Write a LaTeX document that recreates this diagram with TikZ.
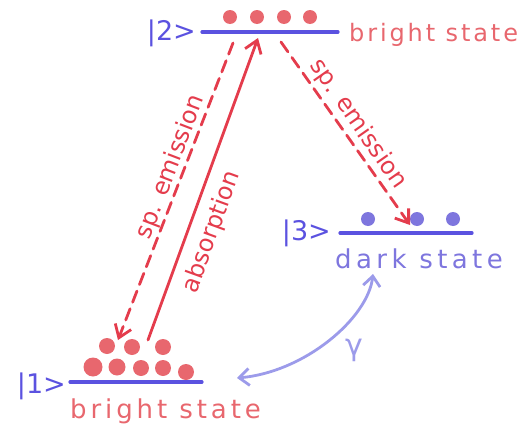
\documentclass[tikz,border=0pt]{standalone}
\usepackage{fontspec}
\setmainfont{DejaVu Sans}
\usetikzlibrary{arrows.meta}
\definecolor{lvlblue}{HTML}{5B52E0}
\definecolor{popred}{HTML}{E8676E}
\definecolor{arrred}{HTML}{E43C4C}
\definecolor{darkpur}{HTML}{7E76DE}
\definecolor{gampur}{HTML}{9C9BEA}

\begin{document}
\begin{tikzpicture}[
  x=1pt, y=-1pt,
  level/.style ={draw=lvlblue,line width=3.2pt,line cap=round},
  ket/.style   ={text=lvlblue,font=\fontsize{27}{27}\selectfont,inner sep=0pt},
  lbl/.style   ={text=popred,font=\fontsize{24}{24}\selectfont\addfontfeatures{LetterSpace=12},inner sep=0pt},
  dlbl/.style  ={text=darkpur,font=\fontsize{26}{26}\selectfont\addfontfeatures{LetterSpace=17},inner sep=0pt},
  tag/.style   ={text=arrred,font=\fontsize{24}{24}\selectfont,inner sep=0pt},
  pop/.style   ={fill=popred},
  dpop/.style  ={fill=darkpur},
  trans/.style ={draw=arrred,line width=2.8pt,line cap=round,line join=round,
                 -{Straight Barb[length=12pt,width=17pt]}},
  emis/.style  ={trans,dash pattern=on 12pt off 7pt},
  decay/.style ={draw=gampur,line width=2.8pt,line cap=round,line join=round,
                 {Straight Barb[length=10pt,width=17pt]}-{Straight Barb[length=10pt,width=17pt]}}]

\useasboundingbox (0,0) rectangle (528,434);

% ---------- levels ----------
\coordinate (l2w) at (202,32);  \coordinate (l2e) at (338,32);
\coordinate (l3w) at (340,233); \coordinate (l3e) at (472,233);
\coordinate (l1w) at (70,382);  \coordinate (l1e) at (202,382);
\draw[level] (l2w) -- (l2e);
\draw[level] (l3w) -- (l3e);
\draw[level] (l1w) -- (l1e);

\node[ket,anchor=east] (k2) at (196,33)  {|2>};
\node[ket,anchor=east] (k3) at (331,233) {|3>};
\node[ket,anchor=east] (k1) at (66,386)  {|1>};

\node[lbl,anchor=base west]  (b2) at (349,41)  {bright state};
\node[dlbl,anchor=base west] (d3) at (335,268) {dark state};
\node[lbl,anchor=base west,font=\fontsize{26}{26}\selectfont\addfontfeatures{LetterSpace=15}]
  (b1) at (70,418) {bright state};

% ---------- populations ----------
\foreach \x in {230,257,284,310} \fill[pop] (\x,17) circle (7);
\foreach \x in {368,417,453} \fill[dpop] (\x,219) circle (7);
\foreach \x/\y/\r in {93/367/9.5,117/367/8.5,141/368/8,163/368/8,186/372/8,
                      107/346/8,132/347/8,163/347/8}
  \fill[pop] (\x,\y) circle (\r);

% ---------- transitions ----------
\coordinate (abs1) at (148,340); \coordinate (abs2) at (258,38);
\coordinate (se1)  at (233,43);  \coordinate (se2)  at (118,340);
\coordinate (sr1)  at (281,42);  \coordinate (sr2)  at (410,225);
\coordinate (g1)   at (373,274); \coordinate (g2)   at (237,378);

\draw[trans] (abs1) -- (abs2);
\draw[emis]  (se1) -- (se2);
\draw[emis]  (sr1) -- (sr2);
\draw[decay] (g1) .. controls (368,318) and (305,372) .. (g2);

\node[tag,rotate=69]  (t1) at (171,167) {sp. emission};
\node[tag,rotate=70]  (t2) at (212,232) {absorption};
\node[tag,rotate=-55] (t3) at (358,124) {sp. emission};
\node[text=gampur,font=\fontsize{30}{30}\selectfont,inner sep=0pt] (gam) at (354,350) {γ};

\end{tikzpicture}
\end{document}
